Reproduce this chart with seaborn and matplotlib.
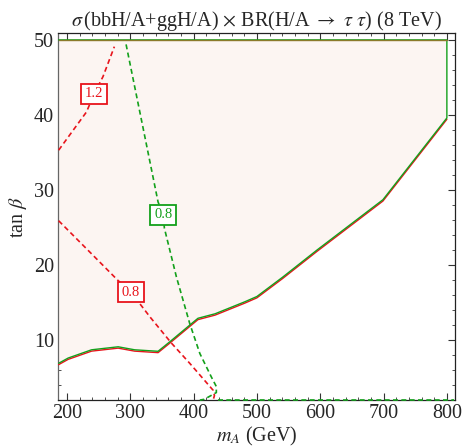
import matplotlib
matplotlib.use("Agg")
import matplotlib.pyplot as plt
from matplotlib.ticker import MultipleLocator
import seaborn as sns
import pandas as pd
import numpy as np

# excluded region boundary (lower edge), mA vs tan beta
bound_m = [187, 202, 239, 281, 307, 344, 363, 397, 407, 434, 481, 500, 541, 595, 699, 800]
bound_tb = [6.9, 7.6, 8.7, 9.1, 8.7, 8.5, 9.8, 12.2, 12.9, 13.5, 15.1, 15.8, 18.4, 22.0, 28.7, 39.6]
top_tb = 50
right_m = 800

# dashed ratio contours
c12_m = [187, 212, 231, 243, 257, 275]
c12_tb = [35.3, 38.2, 40.4, 42.8, 45.1, 49.1]
red08_m = [187, 233, 280, 301, 332, 365, 394, 431, 433, 431]
red08_tb = [25.9, 22.0, 18.0, 16.4, 13.0, 9.6, 6.9, 3.3, 2.6, 2.0]
green08_m = [293.5, 320, 344, 352, 354, 373, 394, 410, 428, 436, 436, 417, 410]
green08_tb = [49.4, 38.4, 28.4, 26.7, 24.9, 18.4, 12.2, 8.2, 5.1, 3.8, 3.0, 2.1, 2.0]
green08_floor_m = [438, 812]
green08_floor_tb = [2.0, 2.0]

labels = [("1.2", 243, 42.8, "#e8141c"), ("0.8", 301, 16.4, "#e8141c"), ("0.8", 352, 26.7, "#13a01b")]

sns.set_theme(style="ticks")
plt.rcParams["font.family"] = ["Liberation Serif", "DejaVu Serif"]
plt.rcParams["mathtext.fontset"] = "stix"

RED = "#e8141c"
GREEN = "#13a01b"

fig = plt.figure(figsize=(4.67, 4.48), dpi=100)
ax = fig.add_axes([0.125, 0.107, 0.849, 0.819])

# shaded region
poly_m = [bound_m[0]] + bound_m + [right_m, bound_m[0]]
poly_tb = [top_tb] + bound_tb + [top_tb, top_tb]
ax.fill(poly_m, poly_tb, color="#fcf5f2", lw=0, zorder=1)


def line(xs, ys, col, lw, **kw):
    d = pd.DataFrame({"m": xs, "tb": ys})
    sns.lineplot(data=d, x="m", y="tb", sort=False, estimator=None, errorbar=None,
                 color=col, lw=lw, ax=ax, **kw)


# solid boundaries (red slightly below green)
line(bound_m, np.array(bound_tb) - 0.18, RED, 1.0, zorder=3)
line([bound_m[0], right_m] + bound_m[::-1], [top_tb, top_tb] + bound_tb[::-1], GREEN, 1.0, zorder=4)
ax.plot([bound_m[0], right_m], [top_tb, top_tb], color="#8a7a2a", lw=1.0, zorder=5)

# dashed contours
for xs, ys, col in [(c12_m, c12_tb, RED), (red08_m, red08_tb, RED),
                    (green08_m, green08_tb, GREEN), (green08_floor_m, green08_floor_tb, GREEN)]:
    line(xs, ys, col, 1.2, linestyle=(0, (3, 2)), zorder=6, clip_on=False)

for txt, x, y, col in labels:
    ax.text(x, y, txt, color=col, fontsize=10.5, ha="center", va="center", zorder=8,
            bbox=dict(boxstyle="square,pad=0.25", fc="white", ec=col, lw=1.3))

ax.set_xlim(186.6, 812.6)
ax.set_ylim(2, 50.9)
ax.xaxis.set_major_locator(MultipleLocator(100))
ax.xaxis.set_minor_locator(MultipleLocator(20))
ax.yaxis.set_major_locator(MultipleLocator(10))
ax.yaxis.set_minor_locator(MultipleLocator(2))
ax.tick_params(which="both", direction="in", top=True, right=True, labelsize=14.5, color="#333333")
ax.tick_params(which="major", length=5, width=0.8, pad=3)
ax.tick_params(which="minor", length=2.5, width=0.6)
for s in ax.spines.values():
    s.set_linewidth(0.9)
    s.set_color("#222222")
ax.spines["left"].set_color("#666666")

ax.set_xlabel("$m_A$ (GeV)", fontsize=14.5, labelpad=1)
ax.set_ylabel(r"tan $\beta$", fontsize=14.5, labelpad=4)
ax.set_title(r"$\sigma\,$(bbH/A+ggH/A) $\times$ BR(H/A $\rightarrow$ $\tau$ $\tau$) (8 TeV)",
             fontsize=14.5, pad=4)

fig.savefig("out.png", dpi=100)
